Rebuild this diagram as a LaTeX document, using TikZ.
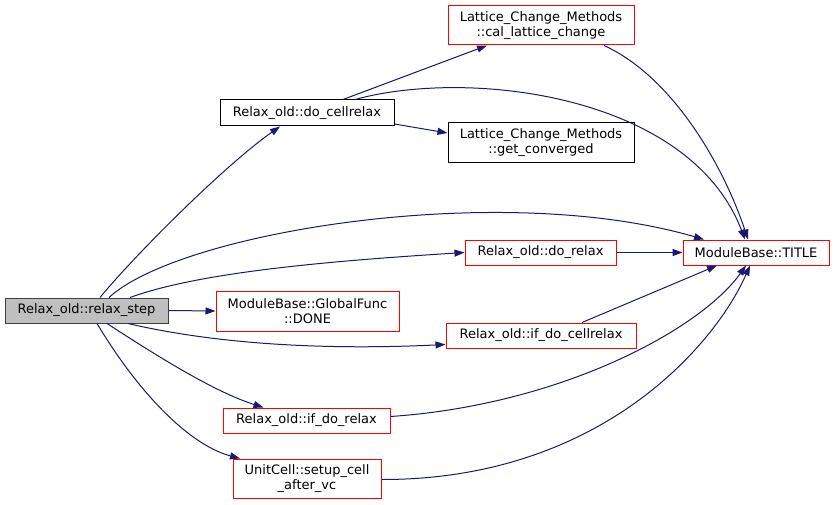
\documentclass[tikz,border=0pt]{standalone}
\usepackage{fontspec}
\setmainfont{DejaVu Sans}
\usetikzlibrary{arrows.meta}
\definecolor{edgec}{HTML}{191970}
\definecolor{rootfill}{HTML}{BFBFBF}
\definecolor{nodered}{HTML}{FF0000}
\begin{document}
\begin{tikzpicture}[x=1pt,y=-1pt,
  box/.style={draw, line width=1pt, inner sep=0pt, align=center,
    font=\fontsize{13}{15}\selectfont, fill=white, text=black},
  redbox/.style={box, draw=nodered},
  blackbox/.style={box, draw=black},
  rootbox/.style={box, draw=black!75, fill=rootfill},
  edge/.style={draw=edgec, line width=1pt, -{Triangle[length=10pt,width=7pt]}}]
\useasboundingbox (0,0) rectangle (835,505);

\node[redbox, minimum width=148pt, minimum height=39pt] (suc) at (307,478.5) {UnitCell::setup\_cell\\\_after\_vc};
\node[rootbox, minimum width=163pt, minimum height=25pt] (rs) at (86.5,310.5) {Relax\_old::relax\_step};
\node[blackbox, minimum width=174pt, minimum height=26pt] (dcr) at (307,113) {Relax\_old::do\_cellrelax};
\node[redbox, minimum width=186pt, minimum height=39pt] (cal) at (541,25.5) {Lattice\_Change\_Methods\\::cal\_lattice\_change};
\node[blackbox, minimum width=186pt, minimum height=40pt] (gc) at (541,143) {Lattice\_Change\_Methods\\::get\_converged};
\node[redbox, minimum width=146pt, minimum height=25pt] (ti) at (756,252.5) {ModuleBase::TITLE};
\node[redbox, minimum width=151pt, minimum height=25pt] (dr) at (540.5,252.5) {Relax\_old::do\_relax};
\node[redbox, minimum width=183pt, minimum height=40pt] (done) at (307.5,311) {ModuleBase::GlobalFunc\\::DONE};
\node[redbox, minimum width=190pt, minimum height=25pt] (idc) at (541,335.5) {Relax\_old::if\_do\_cellrelax};
\node[redbox, minimum width=167pt, minimum height=25pt] (idr) at (306.5,420.5) {Relax\_old::if\_do\_relax};

% edges from relax_step
\draw[edge] ([xshift=13.5pt]rs.north) .. controls (135,255) and (225,165) .. (dcr.south west -| 280,0);
\draw[edge] ([xshift=22.5pt]rs.north) .. controls (180,232) and (500,180) .. ([xshift=-52pt]ti.north);
\draw[edge] ([xshift=43.5pt]rs.north) .. controls (200,272) and (330,261) .. (dr.west);
\draw[edge] (rs.east) -- (done.west);
\draw[edge] ([xshift=41.5pt]rs.south) .. controls (220,345) and (330,350) .. ([yshift=-9pt]idc.west);
\draw[edge] ([xshift=20.5pt]rs.south) .. controls (160,358) and (215,392) .. ([xshift=-43pt]idr.north);
\draw[edge] ([xshift=10.5pt]rs.south) .. controls (140,395) and (190,445) .. ([xshift=-67pt]suc.north);

% edges from do_cellrelax
\draw[edge] ([xshift=36pt]dcr.north) -- ([xshift=-54pt]cal.south);
\draw[edge] ([xshift=48pt]dcr.north) .. controls (470,68) and (690,95) .. ([xshift=-11pt]ti.north);
\draw[edge] ([yshift=-11pt]dcr.east) -- ([yshift=10pt]gc.west);

% edges into TITLE
\draw[edge] ([xshift=63pt]cal.south) .. controls (675,78) and (725,170) .. ([xshift=-8pt]ti.north);
\draw[edge] (dr.east) -- (ti.west);
\draw[edge] ([xshift=41pt]idc.north) -- ([xshift=-39pt]ti.south);
\draw[edge] ([yshift=4pt]idr.east) .. controls (560,405) and (700,330) .. ([xshift=-10pt]ti.south);
\draw[edge] ([yshift=-1pt]suc.east) .. controls (600,480) and (715,345) .. ([xshift=-6pt]ti.south);
\end{tikzpicture}
\end{document}
